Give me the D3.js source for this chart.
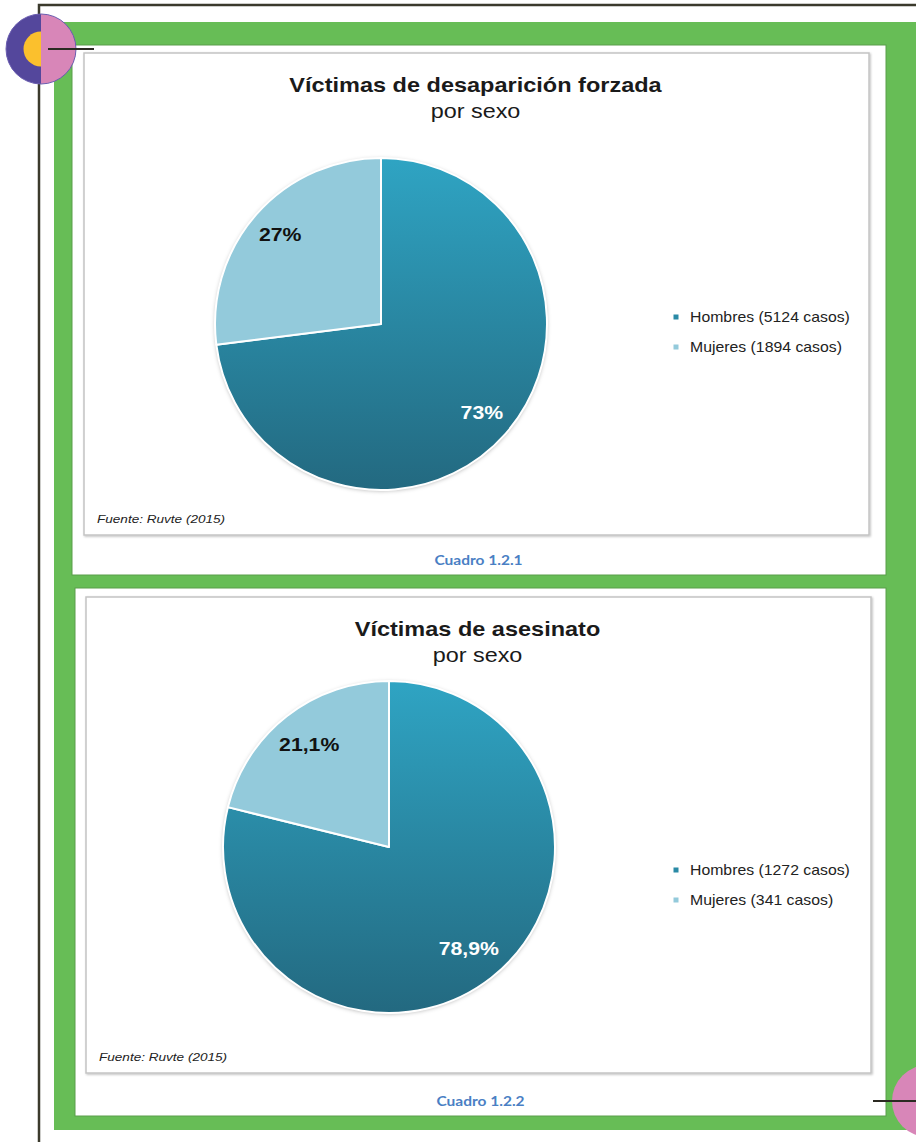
<!DOCTYPE html>
<html>
<head>
<meta charset="utf-8">
<script src="https://cdn.jsdelivr.net/npm/d3@7"></script>
<style>
  body { margin: 0; background: #fff; }
  svg { display: block; }
</style>
</head>
<body>
<div id="chart"></div>
<script>
// datos
const sexos = ["Hombres", "Mujeres"];
const casosDesaparicion = [5124, 1894];
const casosAsesinato = [1272, 341];
const pctDesaparicion = ["73%", "27%"];
const pctAsesinato = ["78,9%", "21,1%"];
const titulos = ["Víctimas de desaparición forzada", "Víctimas de asesinato"];
const subtitulos = ["por sexo", "por sexo"];
const fuentes = ["Fuente: Ruvte (2015)", "Fuente: Ruvte (2015)"];
const cuadros = ["Cuadro 1.2.1", "Cuadro 1.2.2"];

const width = 916, height = 1142;
const font = "'Liberation Sans', Arial, sans-serif";

const svg = d3.select("#chart").append("svg")
    .attr("width", width)
    .attr("height", height)
    .attr("viewBox", `0 0 ${width} ${height}`);

const defs = svg.append("defs");

// texto con un ligero estirado horizontal (el original está ensanchado)
function addText(parent, x, y, str, opts) {
    const t = parent.append("text")
        .attr("transform", `translate(${x},${y}) scale(${opts.sx || 1},1)`)
        .attr("text-anchor", opts.anchor || "start")
        .style("font-family", opts.family || font)
        .style("font-size", opts.size + "px")
        .attr("fill", opts.fill || "#1a1a1a")
        .text(str);
    if (opts.weight) t.style("font-weight", opts.weight);
    if (opts.italic) t.style("font-style", "italic");
    if (opts.baseline) t.attr("dominant-baseline", opts.baseline);
    return t;
}

// sombras
const sh = defs.append("filter").attr("id", "pieShadow")
    .attr("x", "-10%").attr("y", "-10%").attr("width", "120%").attr("height", "120%");
sh.append("feDropShadow").attr("dx", 0).attr("dy", 1).attr("stdDeviation", 2)
    .attr("flood-color", "#000").attr("flood-opacity", 0.3);

const fs = defs.append("filter").attr("id", "frameShadow")
    .attr("x", "-5%").attr("y", "-5%").attr("width", "110%").attr("height", "110%");
fs.append("feDropShadow").attr("dx", 1).attr("dy", 1).attr("stdDeviation", 1)
    .attr("flood-color", "#000").attr("flood-opacity", 0.25);

// fondo verde
svg.append("rect")
    .attr("x", 54).attr("y", 22)
    .attr("width", width - 54 + 2).attr("height", 1130 - 22)
    .attr("fill", "#67bd56");

// línea de borde oscura
svg.append("path")
    .attr("d", `M39,${height} L39,5 L${width},5`)
    .attr("fill", "none")
    .attr("stroke", "#3b3a2c")
    .attr("stroke-width", 2.5);

const panels = [
    { x: 72, y: 45, w: 814, h: 530, frame: { x: 84, y: 53, w: 785, h: 482 },
      cx: 381, cy: 324, r: 166, legendX: 676, legendY: 317,
      casos: casosDesaparicion, pct: pctDesaparicion, labelK: 0.81 },
    { x: 75, y: 588, w: 811, h: 528, frame: { x: 86, y: 597, w: 785, h: 476 },
      cx: 389, cy: 847, r: 166, legendX: 676, legendY: 870,
      casos: casosAsesinato, pct: pctAsesinato, labelK: 0.78 }
];

const colorH = "#2a8aa6";
const colorM = "#93cadb";

panels.forEach((p, i) => {
    // panel blanco
    svg.append("rect")
        .attr("x", p.x).attr("y", p.y).attr("width", p.w).attr("height", p.h)
        .attr("fill", "#fff")
        .attr("stroke", "#5a9e4a").attr("stroke-width", 1);

    // marco gris del gráfico
    svg.append("rect")
        .attr("x", p.frame.x).attr("y", p.frame.y)
        .attr("width", p.frame.w).attr("height", p.frame.h)
        .attr("fill", "#fff")
        .attr("stroke", "#c4c4c4").attr("stroke-width", 1.5)
        .attr("filter", "url(#frameShadow)");

    // título
    const cxTitle = p.frame.x + p.frame.w / 2 - 1;
    addText(svg, cxTitle, p.frame.y + 39, titulos[i],
        { size: 21, weight: "bold", anchor: "middle", sx: 1.12 });
    addText(svg, cxTitle, p.frame.y + 65, subtitulos[i],
        { size: 20, anchor: "middle", sx: 1.17 });

    // degradado para Hombres (coordenadas del grupo del pastel)
    const grad = defs.append("linearGradient").attr("id", "gradH" + i)
        .attr("gradientUnits", "userSpaceOnUse")
        .attr("x1", 0).attr("y1", -p.r).attr("x2", 0).attr("y2", p.r);
    grad.append("stop").attr("offset", "0%").attr("stop-color", "#2fa4c3");
    grad.append("stop").attr("offset", "100%").attr("stop-color", "#236980");

    const pie = d3.pie().sort(null).value(d => d);
    const arc = d3.arc().innerRadius(0).outerRadius(p.r);
    const labelArc = d3.arc().innerRadius(p.r * p.labelK).outerRadius(p.r * p.labelK);
    const arcs = pie(p.casos);

    const g = svg.append("g").attr("transform", `translate(${p.cx},${p.cy})`);
    g.append("circle").attr("r", p.r).attr("fill", "#fff").attr("filter", "url(#pieShadow)");
    g.selectAll("path.slice")
        .data(arcs)
        .enter()
        .append("path")
        .attr("class", "slice")
        .attr("d", arc)
        .attr("fill", (d, j) => j === 0 ? `url(#gradH${i})` : colorM)
        .attr("stroke", "#fff")
        .attr("stroke-width", 2)
        .attr("stroke-linejoin", "round");

    arcs.forEach((d, j) => {
        const [lx, ly] = labelArc.centroid(d);
        addText(g, lx, ly, p.pct[j], {
            size: 18, weight: "bold", anchor: "middle", baseline: "central", sx: 1.18,
            fill: j === 0 ? "#fff" : "#111"
        });
    });

    // leyenda
    const legend = svg.append("g").attr("transform", `translate(${p.legendX},${p.legendY})`);
    sexos.forEach((s, j) => {
        legend.append("rect")
            .attr("x", -2.5).attr("y", j * 30 - 2.5)
            .attr("width", 5).attr("height", 5)
            .attr("fill", j === 0 ? colorH : colorM);
        addText(legend, 14, j * 30, `${s} (${p.casos[j]} casos)`,
            { size: 14, baseline: "central", sx: 1.13, fill: "#222" });
    });

    // fuente
    addText(svg, p.frame.x + 13, p.frame.y + p.frame.h - 12, fuentes[i],
        { size: 11.5, italic: true, sx: 1.18, fill: "#222" });

    // pie de cuadro
    addText(svg, p.frame.x + p.frame.w / 2 + 2, p.y + p.h - 10, cuadros[i], {
        size: 13.5, anchor: "middle", sx: 1.15, weight: "bold",
        family: "Lato, 'Open Sans', sans-serif", fill: "#4a7fc4"
    });
});

// decoración superior izquierda
const deco = svg.append("g").attr("transform", "translate(41,49)");
const halfL = d3.arc().innerRadius(0).outerRadius(35).startAngle(Math.PI).endAngle(2 * Math.PI);
const halfR = d3.arc().innerRadius(0).outerRadius(35).startAngle(0).endAngle(Math.PI);
const yellowL = d3.arc().innerRadius(0).outerRadius(17.5).startAngle(Math.PI).endAngle(2 * Math.PI);
deco.append("path").attr("d", halfL).attr("fill", "#54479c");
deco.append("path").attr("d", yellowL).attr("fill", "#fbc02d");
deco.append("path").attr("d", halfR).attr("fill", "#d886b8");
deco.append("circle").attr("r", 35).attr("fill", "none").attr("stroke", "#6a5db0").attr("stroke-width", 1);
deco.append("line").attr("x1", 7).attr("x2", 53).attr("y1", 0).attr("y2", 0)
    .attr("stroke", "#2b2a22").attr("stroke-width", 2);

// decoración inferior derecha
svg.append("circle").attr("cx", 928).attr("cy", 1101).attr("r", 36).attr("fill", "#d886b8");
svg.append("line").attr("x1", 873).attr("x2", width).attr("y1", 1101).attr("y2", 1101)
    .attr("stroke", "#2b2a22").attr("stroke-width", 2);
</script>
</body>
</html>
